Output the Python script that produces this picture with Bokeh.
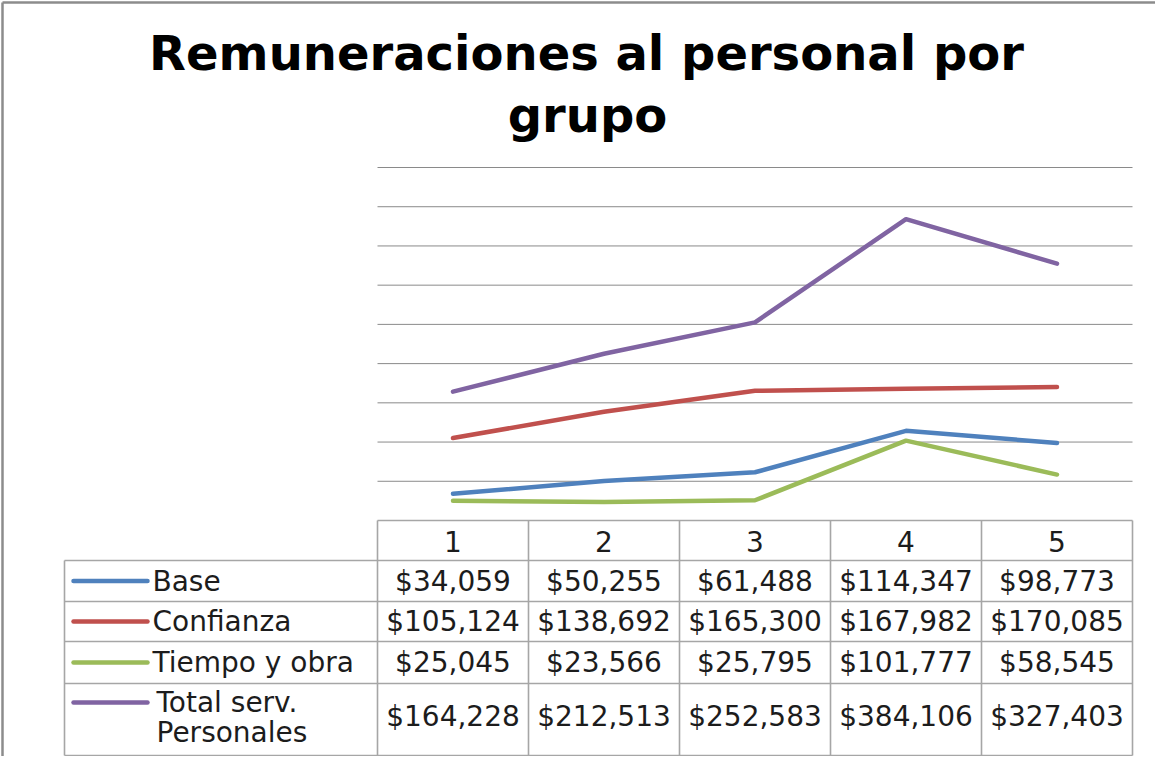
from bokeh.plotting import figure
from bokeh.models import Range1d
from bokeh.embed import file_html
from bokeh.resources import INLINE
from bokeh.core.properties import value

# ---------------- data ----------------
title_lines = ["Remuneraciones al personal por", "grupo"]
categories = [1, 2, 3, 4, 5]
series_names = ["Base", "Confianza", "Tiempo y obra", "Total serv.\nPersonales"]
base = [34059, 50255, 61488, 114347, 98773]
confianza = [105124, 138692, 165300, 167982, 170085]
tiempo_obra = [25045, 23566, 25795, 101777, 58545]
total_serv = [164228, 212513, 252583, 384106, 327403]
grid_ticks = [50000, 100000, 150000, 200000, 250000, 300000, 350000, 400000, 450000]
colors = ["#4F81BD", "#C0504D", "#9BBB59", "#8064A2"]

series = [base, confianza, tiempo_obra, total_serv]

# ---------------- layout (reference pixel geometry) ----------------
W, H = 1155, 756
OFF = 8
COL_W = 151.0
X1_PX = 460.5          # pixel centre of category 1
Y0_PX = 528.0          # pixel of value 0
YTOP_PX = 175.0        # pixel of top gridline
YMAX = grid_ticks[-1]
K = YMAX / (Y0_PX - YTOP_PX)


def X(px):
    return categories[0] + (px - X1_PX) / COL_W


def Y(py):
    return (Y0_PX - py) * K


p = figure(width=W, height=H, output_backend="svg", toolbar_location=None,
           x_range=Range1d(X(OFF), X(OFF + W)), y_range=Range1d(Y(OFF + H), Y(OFF)),
           min_border=0, min_border_left=0, min_border_right=0,
           min_border_top=0, min_border_bottom=0)
p.axis.visible = False
p.grid.visible = False
p.outline_line_color = None
p.background_fill_color = "white"
p.border_fill_color = "white"

FONT = "DejaVu Sans"
TXT_COLOR = "#1c1c1c"
TABLE_LINE = "#a6a6a6"

# outer chart border (left and top)
p.segment(x0=[X(10), X(10)], y0=[Y(10), Y(10)], x1=[X(10), X(1200)], y1=[Y(800), Y(10)],
          line_color="#8c8c8c", line_width=2.5)

# title
TFS = "48px"
p.text(x=[X(594)], y=[Y(60)], text=[title_lines[0]], text_font=value(FONT),
       text_font_style="bold", text_font_size=TFS, text_align="center",
       text_baseline="middle", text_color="black")
p.text(x=[X(595)], y=[Y(122)], text=[title_lines[1]], text_font=value(FONT),
       text_font_style="bold", text_font_size=TFS, text_align="center",
       text_baseline="middle", text_color="black")

# gridlines
x_left = categories[0] - 0.5
x_right = categories[-1] + 0.5
p.segment(x0=[x_left] * len(grid_ticks), x1=[x_right] * len(grid_ticks),
          y0=grid_ticks, y1=grid_ticks, line_color="#8a8a8a", line_width=1)

# series lines
for vals, c in zip(series, colors):
    p.line(categories, vals, line_color=c, line_width=4.5, line_cap="round", line_join="round")

# ---------------- data table ----------------
row_px = [528, 568, 609, 649, 691, 763]
legend_left_px = 72
col_edges = [c - 0.5 for c in categories] + [categories[-1] + 0.5]

# horizontal lines
hx0, hx1, hy = [], [], []
hx0.append(col_edges[0]); hx1.append(col_edges[-1]); hy.append(Y(row_px[0]))
for r in row_px[1:]:
    hx0.append(X(legend_left_px)); hx1.append(col_edges[-1]); hy.append(Y(r))
p.segment(x0=hx0, x1=hx1, y0=hy, y1=hy, line_color=TABLE_LINE, line_width=1.6)
# vertical lines
vx = list(col_edges) + [X(legend_left_px)]
vy0 = [Y(row_px[0])] * len(col_edges) + [Y(row_px[1])]
vy1 = [Y(row_px[-1])] * len(vx)
p.segment(x0=vx, x1=vx, y0=vy0, y1=vy1, line_color=TABLE_LINE, line_width=1.6)

FS = "28px"
# header
p.text(x=categories, y=[Y(549)] * len(categories), text=[str(c) for c in categories],
       text_font=value(FONT), text_font_size=FS, text_align="center",
       text_baseline="middle", text_color=TXT_COLOR)

row_centres = [588.5, 629, 670, 724]
for i, (vals, c, name) in enumerate(zip(series, colors, series_names)):
    yc = row_centres[i]
    p.text(x=categories, y=[Y(yc)] * len(vals), text=[f"${v:,}" for v in vals],
           text_font=value(FONT), text_font_size=FS, text_align="center",
           text_baseline="middle", text_color=TXT_COLOR)
    lines = name.split("\n")
    if len(lines) == 1:
        sample_y = yc
        p.text(x=[X(160)], y=[Y(yc)], text=[lines[0]], text_font=value(FONT),
               text_font_size=FS, text_align="left", text_baseline="middle",
               text_color=TXT_COLOR)
    else:
        sample_y = 710
        p.text(x=[X(164)], y=[Y(710)], text=[lines[0]], text_font=value(FONT),
               text_font_size=FS, text_align="left", text_baseline="middle",
               text_color=TXT_COLOR)
        p.text(x=[X(164)], y=[Y(740)], text=[lines[1]], text_font=value(FONT),
               text_font_size=FS, text_align="left", text_baseline="middle",
               text_color=TXT_COLOR)
    p.segment(x0=[X(81)], x1=[X(155)], y0=[Y(sample_y)], y1=[Y(sample_y)],
              line_color=c, line_width=4.5, line_cap="round")

open("out.html", "w").write(file_html(p, INLINE))
